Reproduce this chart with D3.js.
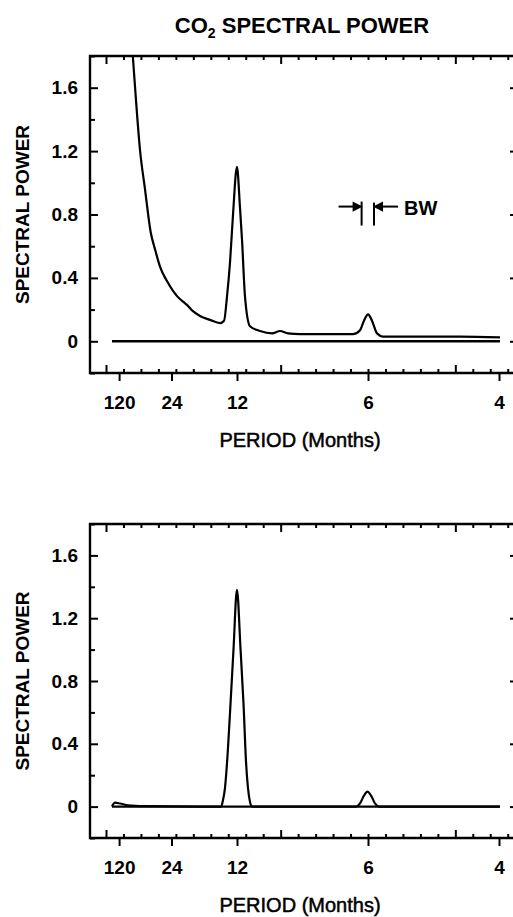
<!DOCTYPE html>
<html>
<head>
<meta charset="utf-8">
<script src="https://cdn.jsdelivr.net/npm/d3@7"></script>
<style>
  body { margin: 0; background: #fff; }
  svg { display: block; }
  text { font-family: "Liberation Sans", Arial, Helvetica, sans-serif; fill: #000; font-weight: bold; }
</style>
</head>
<body>
<svg id="chart" width="513" height="917"></svg>
<script>
// frequency in cycles/month, labelled on the axis by period (months)
var periodTicks = [120, 24, 12, 6, 4];
var powerTicks = [0, 0.4, 0.8, 1.2, 1.6];
var minorPower = [-0.2, 0.2, 0.6, 1.0, 1.4, 1.8];

// top panel: raw spectrum (red noise + annual + semi-annual)
var rawFreq = [0.0159, 0.0172, 0.0185, 0.0216, 0.0248, 0.0284, 0.0312, 0.0344, 0.0388, 0.0452,
  0.0490, 0.0515, 0.0553, 0.0598, 0.0662, 0.0725, 0.0751, 0.0770, 0.0789, 0.0808, 0.0833,
  0.0852, 0.0865, 0.0884, 0.0916, 0.0980, 0.1056, 0.1107, 0.1158, 0.1234, 0.1425, 0.1571,
  0.1616, 0.1641, 0.1667, 0.1692, 0.1724, 0.1762, 0.1998, 0.2252, 0.2506];
var rawPower = [1.95, 1.78, 1.60, 1.21, 0.96, 0.69, 0.58, 0.47, 0.38, 0.285,
  0.25, 0.23, 0.19, 0.16, 0.135, 0.115, 0.13, 0.285, 0.50, 0.80, 1.10,
  0.85, 0.645, 0.285, 0.095, 0.065, 0.05, 0.065, 0.05, 0.045, 0.045, 0.045,
  0.07, 0.13, 0.17, 0.13, 0.05, 0.03, 0.03, 0.03, 0.025];

// bottom panel: filtered spectrum
var filtFreq = [0.0038, 0.0057, 0.0089, 0.0140, 0.0248, 0.0598, 0.0732, 0.0744, 0.0757, 0.0770,
  0.0789, 0.0811, 0.0833, 0.0856, 0.0875, 0.0891, 0.0903, 0.0916, 0.0929, 0.1234,
  0.1590, 0.1616, 0.1641, 0.1663, 0.1686, 0.1711, 0.1737, 0.2506];
var filtPower = [0, 0.025, 0.02, 0.008, 0.003, 0, 0, 0.04, 0.12, 0.28,
  0.60, 1.00, 1.38, 1.00, 0.65, 0.28, 0.12, 0.03, 0, 0,
  0, 0.02, 0.07, 0.095, 0.07, 0.02, 0, 0];

// zero reference line drawn in both panels
var zeroFreq = [0.0038, 0.2506];
var zeroPower = [0, 0];

var svg = d3.select('#chart');
var frameLeft = 90, frameRight = 515;

var x = d3.scaleLinear().domain([0, 0.25]).range([106, 499]);

var minorFreq = d3.range(0, 24).map(function(k){ return k / 90; });
var majorFreq = minorFreq.filter(function(d, k){ return k % 10 === 0; });
minorFreq = minorFreq.filter(function(d, k){ return k % 10 !== 0; });

svg.append('text')
   .attr('x', 302).attr('y', 33)
   .attr('text-anchor', 'middle')
   .style('font-size', '22px')
   .call(function(t){
       t.append('tspan').text('CO');
       t.append('tspan').attr('dy', 5).style('font-size', '14px').text('2');
       t.append('tspan').attr('dy', -5).text(' SPECTRAL POWER');
   });

function zip(fs, ps){ return fs.map(function(f, i){ return [f, ps[i]]; }); }

function drawPanel(top, bottom, lines, id){
    var y = d3.scaleLinear().domain([-0.2, 1.8]).range([bottom, top]);
    var g = svg.append('g').attr('id', id);

    var clipId = 'clip-' + id;
    g.append('clipPath').attr('id', clipId)
     .append('rect').attr('x', frameLeft).attr('y', top).attr('width', frameRight - frameLeft).attr('height', bottom - top);

    var line = d3.line()
        .x(function(d){ return x(d[0]); })
        .y(function(d){ return y(d[1]); })
        .curve(d3.curveMonotoneX);

    lines.forEach(function(l){
        g.append('path')
         .datum(l.data)
         .attr('clip-path', 'url(#' + clipId + ')')
         .attr('d', line)
         .style('fill', 'none')
         .style('stroke', '#000')
         .style('stroke-width', l.width)
         .style('stroke-linejoin', 'round');
    });

    // left axis, ticks pointing inward
    g.append('g').attr('transform', 'translate(' + frameLeft + ',0)')
        .call(d3.axisLeft(y).tickValues(powerTicks).tickSize(-8).tickSizeOuter(0).tickPadding(12)
              .tickFormat(function(d){ return d === 0 ? '0' : d.toFixed(1); }));
    g.append('g').attr('transform', 'translate(' + frameLeft + ',0)')
        .call(d3.axisLeft(y).tickValues(minorPower).tickSize(-5).tickSizeOuter(0).tickFormat(''));
    // right axis (sits just outside the picture)
    g.append('g').attr('transform', 'translate(' + frameRight + ',0)')
        .call(d3.axisRight(y).tickValues(powerTicks).tickSize(-5).tickSizeOuter(0).tickFormat(''));

    // top axis, inward ticks
    g.append('g').attr('transform', 'translate(0,' + top + ')')
        .call(d3.axisTop(x).tickValues(minorFreq).tickSize(-4).tickSizeOuter(0).tickFormat(''));
    g.append('g').attr('transform', 'translate(0,' + top + ')')
        .call(d3.axisTop(x).tickValues(majorFreq).tickSize(-8).tickSizeOuter(0).tickFormat(''));

    // bottom axis, inward ticks plus outward labelled periods
    g.append('g').attr('transform', 'translate(0,' + bottom + ')')
        .call(d3.axisBottom(x).tickValues(minorFreq).tickSize(-4).tickSizeOuter(0).tickFormat(''));
    g.append('g').attr('transform', 'translate(0,' + bottom + ')')
        .call(d3.axisBottom(x).tickValues(majorFreq).tickSize(-8).tickSizeOuter(0).tickFormat(''));
    g.append('g').attr('transform', 'translate(0,' + bottom + ')')
        .call(d3.axisBottom(x).tickValues(periodTicks.map(function(p){ return 1 / p; }))
              .tickSize(8).tickSizeOuter(0).tickPadding(15)
              .tickFormat(function(d, i){ return periodTicks[i]; }));

    g.selectAll('.domain').remove();
    g.selectAll('.tick line').style('stroke', '#000').style('stroke-width', 2);
    g.selectAll('.tick text')
     .style('font-size', '19px').style('font-weight', 'bold')
     .style('font-family', '"Liberation Sans", Arial, sans-serif').style('fill', '#000');

    // frame: top, left, bottom, right
    g.append('path')
     .attr('d', 'M' + frameRight + ',' + top + 'H' + frameLeft + 'V' + bottom + 'H' + frameRight + 'V' + top)
     .style('fill', 'none').style('stroke', '#000').style('stroke-width', 2.4);

    g.append('text')
     .attr('transform', 'translate(29,' + ((top + bottom) / 2) + ') rotate(-90)')
     .attr('text-anchor', 'middle')
     .style('font-size', '19px')
     .text('SPECTRAL POWER');

    g.append('text')
     .attr('x', 300).attr('y', bottom + 74)
     .attr('text-anchor', 'middle')
     .style('font-size', '20px')
     .style('font-weight', 'normal')
     .style('stroke', '#000').style('stroke-width', 0.5)
     .text('PERIOD (Months)');

    return y;
}

var yTop = drawPanel(56, 373, [
    { data: zip(zeroFreq, zeroPower), width: 2.6 },
    { data: zip(rawFreq, rawPower), width: 2.2 }
], 'top');

// bandwidth marker
var bwLeft = x(0.1626), bwRight = x(0.1705), bwY = yTop(0.85);
var bw = svg.append('g').attr('id', 'bw').style('stroke', '#000').style('stroke-width', 2);
bw.append('line').attr('x1', bwLeft).attr('x2', bwLeft).attr('y1', bwY - 5).attr('y2', bwY + 19);
bw.append('line').attr('x1', bwRight).attr('x2', bwRight).attr('y1', bwY - 4).attr('y2', bwY + 19);
bw.append('line').attr('x1', bwLeft - 23).attr('x2', bwLeft - 2).attr('y1', bwY).attr('y2', bwY);
bw.append('line').attr('x1', bwRight + 2).attr('x2', bwRight + 24).attr('y1', bwY).attr('y2', bwY);
bw.append('path').attr('d', 'M' + (bwLeft - 1) + ',' + bwY + 'l-7,-3.5v7z').style('fill', '#000');
bw.append('path').attr('d', 'M' + (bwRight + 1) + ',' + bwY + 'l7,-3.5v7z').style('fill', '#000');
svg.append('text').attr('x', bwRight + 30).attr('y', bwY + 8).style('font-size', '20px').text('BW');

drawPanel(524, 838, [
    { data: zip(zeroFreq, zeroPower), width: 2.4 },
    { data: zip(filtFreq, filtPower), width: 2.2 }
], 'bottom');
</script>
</body>
</html>
